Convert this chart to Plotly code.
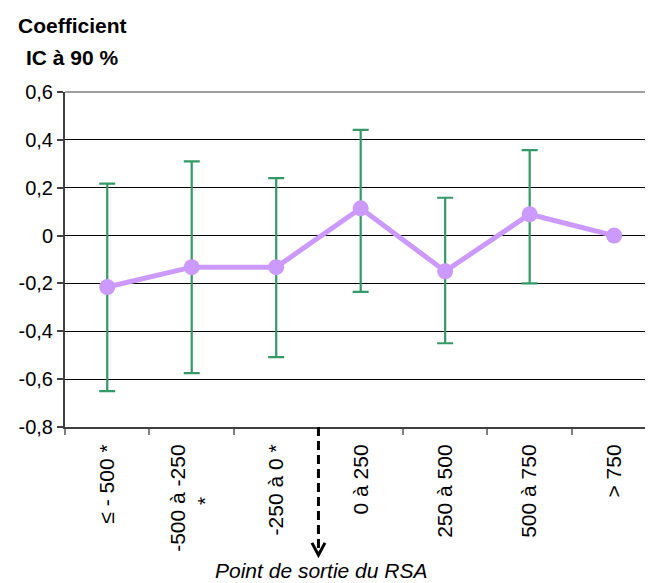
import plotly.graph_objects as go

NB = "\u00a0"
categories = ["≤ - 500 *", "-500 à -250<br>*" + NB * 9, "-250 à 0 *", "0 à 250", "250 à 500", "500 à 750", "> 750"]
coef = [-0.215, -0.132, -0.132, 0.114, -0.149, 0.089, 0.0]
ci_upper = [0.217, 0.31, 0.24, 0.442, 0.158, 0.357, 0.0]
ci_lower = [-0.65, -0.575, -0.508, -0.235, -0.45, -0.2, 0.0]
y_ticks = [0.6, 0.4, 0.2, 0.0, -0.2, -0.4, -0.6, -0.8]
y_tick_text = ["0,6", "0,4", "0,2", "0", "-0,2", "-0,4", "-0,6", "-0,8"]

err_plus = [u - c for u, c in zip(ci_upper, coef)]
err_minus = [c - l for l, c in zip(ci_lower, coef)]

FONT = "Liberation Sans, Arial, sans-serif"

fig = go.Figure()
fig.add_trace(go.Scatter(
    x=categories, y=coef, mode="lines+markers",
    line=dict(color="#CC99FF", width=5),
    marker=dict(color="#CC99FF", size=16),
    error_y=dict(type="data", symmetric=False, array=err_plus, arrayminus=err_minus,
                 color="#339966", thickness=2.2, width=8),
    showlegend=False,
    cliponaxis=False,
))

# page body has an 8px margin, so the figure is 8px smaller than the window
fig.update_layout(
    width=645, height=575,
    margin=dict(l=57, r=0, t=84, b=156),
    paper_bgcolor="white", plot_bgcolor="white",
    font=dict(family=FONT, size=20, color="black"),
    xaxis=dict(
        type="category", range=[-0.5, 6.46],
        tickangle=-90, tickson="boundaries",
        ticks="outside", ticklen=6, tickcolor="#808080", tickwidth=1.5,
        showline=True, linecolor="#404040", linewidth=2,
        showgrid=False, ticklabelstandoff=7,
        tickfont=dict(size=21),
    ),
    yaxis=dict(
        range=[-0.8, 0.6], tickvals=y_ticks, ticktext=y_tick_text,
        ticks="outside", ticklen=6, tickcolor="#404040", tickwidth=1.5,
        showline=True, linecolor="#404040", linewidth=2,
        showgrid=True, gridcolor="black", gridwidth=1.2,
        zeroline=False, tickfont=dict(size=20),
    ),
)

# grey top border line at 0.6
fig.add_shape(type="line", xref="paper", yref="paper", x0=0, x1=1, y0=1, y1=1,
              line=dict(color="#A0A0A0", width=2))

# dashed arrow marking the RSA exit point (boundary between categories 3 and 4)
fig.add_shape(type="line", xref="x", yref="paper", x0=2.5, x1=2.5, y0=0, y1=-0.38,
              line=dict(color="black", width=3, dash="9px,5px"))
fig.add_shape(type="path", xref="x", yref="paper",
              path="M 2.423,-0.346 L 2.5,-0.382 L 2.577,-0.346",
              line=dict(color="black", width=3))

fig.add_annotation(text="<i>Point de sortie du RSA</i>", xref="paper", yref="paper",
                   x=0.435, y=-0.428, xanchor="center", yanchor="middle",
                   showarrow=False, font=dict(size=21, family=FONT))

fig.add_annotation(text="<b>Coefficient</b>", xref="paper", yref="paper",
                   x=0.012, y=1.2, xanchor="center", yanchor="middle",
                   showarrow=False, font=dict(size=21, family=FONT))
fig.add_annotation(text="<b>IC à 90 %</b>", xref="paper", yref="paper",
                   x=0.012, y=1.104, xanchor="center", yanchor="middle",
                   showarrow=False, font=dict(size=21, family=FONT))

fig.write_html("out.html")
